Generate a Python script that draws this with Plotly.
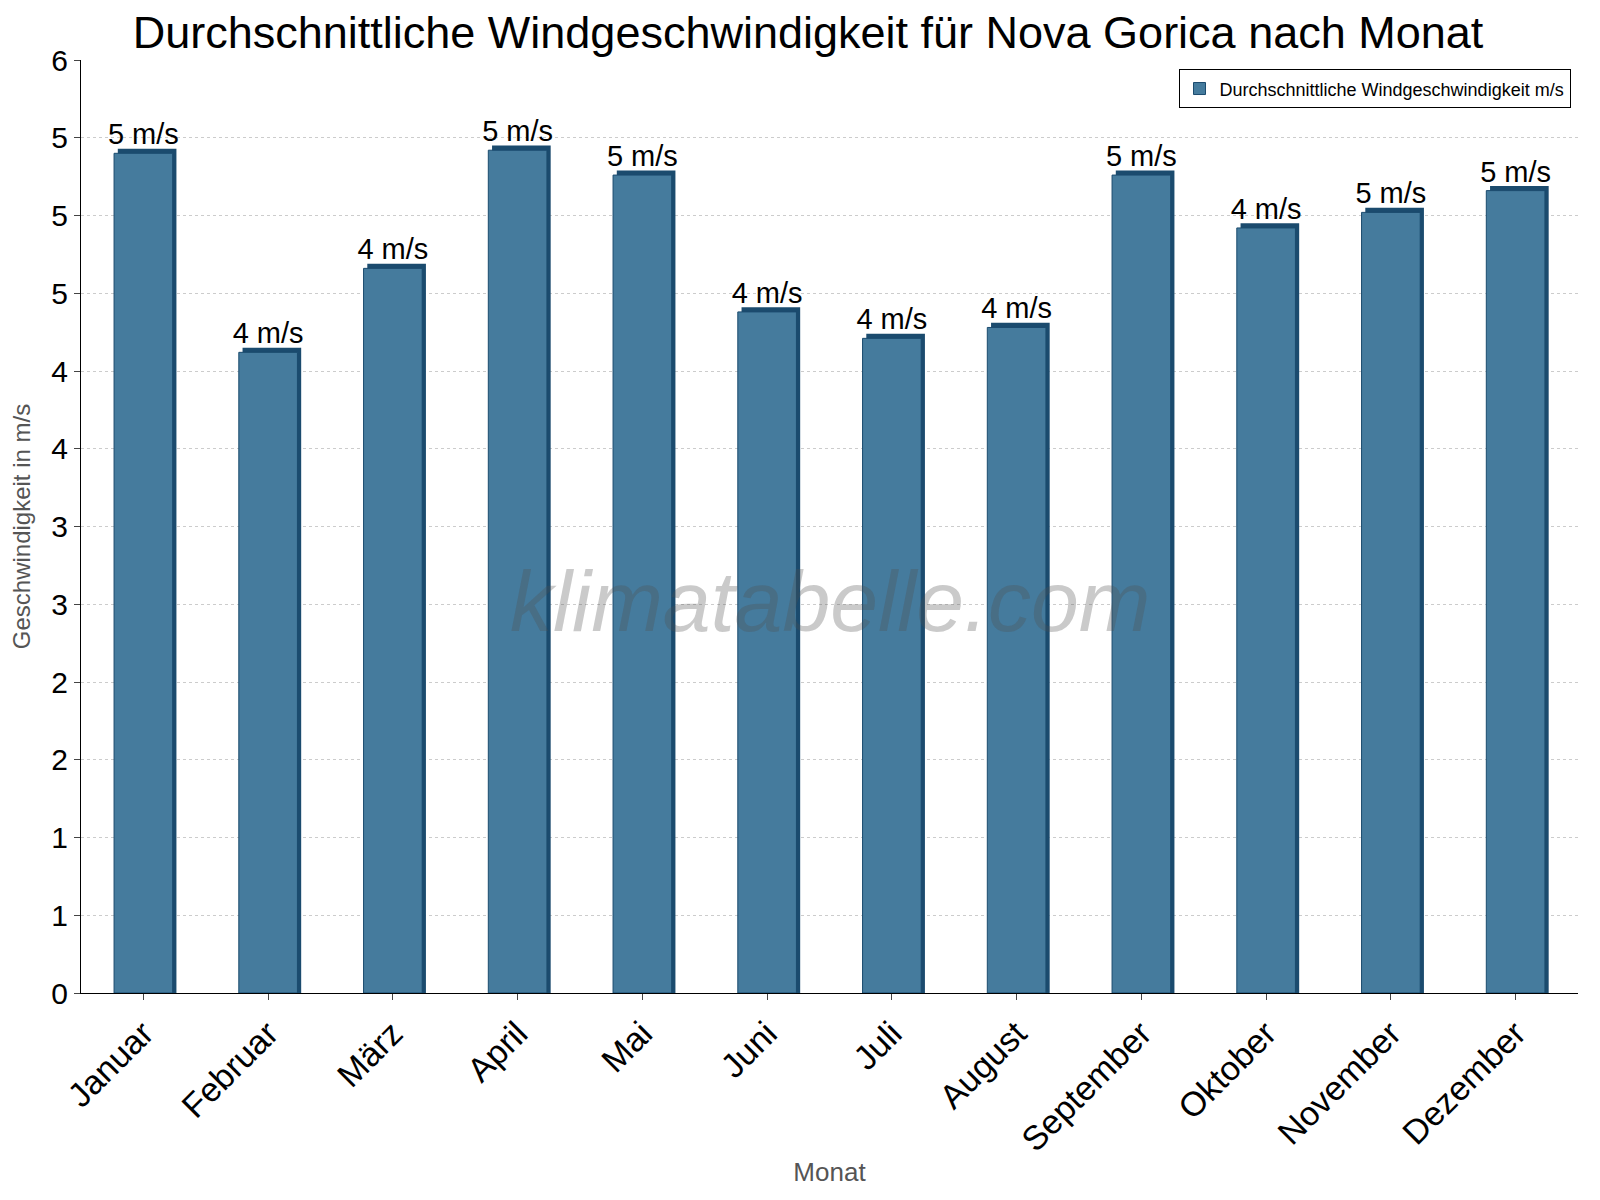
import plotly.graph_objects as go

months = ["Januar", "Februar", "März", "April", "Mai", "Juni", "Juli",
          "August", "September", "Oktober", "November", "Dezember"]
wind = [5.40, 4.12, 4.66, 5.42, 5.26, 4.38, 4.21, 4.28, 5.26, 4.92, 5.02, 5.16]
tick_vals = [0, 0.5, 1, 1.5, 2, 2.5, 3, 3.5, 4, 4.5, 5, 5.5, 6]
tick_text = ["0", "1", "1", "2", "2", "3", "3", "4", "4", "5", "5", "5", "6"]

labels = [f"{int(v)} m/s" for v in wind]

fig = go.Figure()
# dark side/top face for a slight 3D look
fig.add_trace(go.Bar(
    x=months, y=[v + 0.03 for v in wind], width=0.47, offset=-0.205,
    marker=dict(color="#1b4b6e", line=dict(width=0)),
    showlegend=False, hoverinfo="skip",
))
fig.add_trace(go.Bar(
    x=months, y=wind, width=0.47, offset=-0.235,
    name="Durchschnittliche Windgeschwindigkeit m/s",
    marker=dict(color="#457b9d", line=dict(color="#1b4b6e", width=1)),
    text=labels, textposition="outside", constraintext="none",
    textfont=dict(size=29, color="black", family="Liberation Sans"),
    cliponaxis=False,
))

fig.add_annotation(text="<i>klimatabelle.com</i>", x=0.5, y=0.42, xref="paper", yref="paper",
                   showarrow=False, font=dict(size=86, color="rgba(80,80,80,0.3)",
                                              family="Liberation Sans"))

fig.update_layout(
    width=1600, height=1200,
    paper_bgcolor="white", plot_bgcolor="white",
    margin=dict(l=63, r=30, t=52, b=215),
    font=dict(family="Liberation Sans", color="black"),
    title=dict(text="Durchschnittliche Windgeschwindigkeit für Nova Gorica nach Monat",
               x=0.5, y=0.993, yanchor="top", xanchor="center", font=dict(size=45)),
    showlegend=True,
    barmode="overlay",
    legend=dict(x=0.995, y=0.99, xanchor="right", yanchor="top",
                bordercolor="black", borderwidth=1, bgcolor="white",
                font=dict(size=18)),
)
fig.update_xaxes(title=dict(text="Monat", font=dict(size=26, color="#555"), standoff=5),
                 tickangle=-45, tickfont=dict(size=34),
                 showline=True, linecolor="black", ticks="outside", ticklen=6)
fig.update_yaxes(title=dict(text="Geschwindigkeit in m/s", font=dict(size=24, color="#555")),
                 range=[0, 6], tickvals=tick_vals, ticktext=tick_text,
                 tickfont=dict(size=30), showgrid=True, gridcolor="#cccccc",
                 griddash="dot", showline=True, linecolor="black",
                 ticks="outside", ticklen=6, zeroline=False)

fig.write_html("out.html")
